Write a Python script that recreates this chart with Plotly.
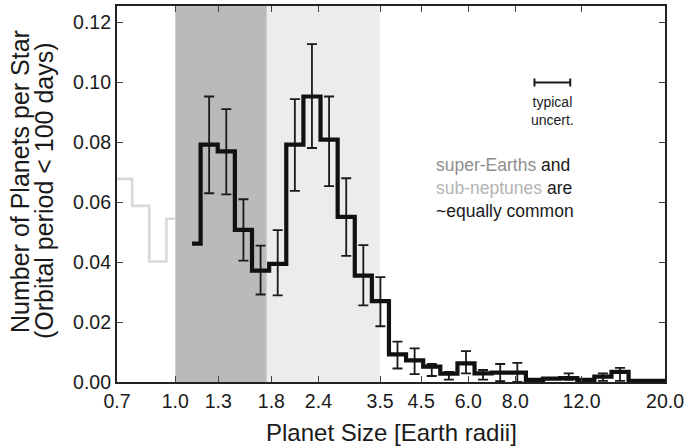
import plotly.graph_objects as go

# Planet occurrence vs. radius (orbital period < 100 days), log-spaced radius bins.
# Bin centres in Earth radii for the well-measured sample (R > ~1.1)
radius_centers = [1.108, 1.230, 1.366, 1.517, 1.685, 1.871, 2.078, 2.307, 2.562,
                  2.845, 3.159, 3.507, 3.893, 4.323, 4.801, 5.331, 5.920, 6.572,
                  7.298, 8.104, 9.000, 9.993, 11.10, 12.32, 13.68, 15.19, 16.87,
                  18.73, 20.80]
occurrence = [0.0462, 0.0792, 0.0770, 0.0508, 0.0372, 0.0394, 0.0792, 0.0953,
              0.0809, 0.0551, 0.0355, 0.0270, 0.0092, 0.0072, 0.0051, 0.0028,
              0.0062, 0.0029, 0.0031, 0.0031, 0.0007, 0.0011, 0.0013, 0.0007,
              0.0018, 0.0034, 0.0004, 0.0004, 0.0004]

# Bins carrying an uncertainty bar: centre, value, lower and upper bound
err_centers = [1.230, 1.366, 1.517, 1.685, 1.871, 2.078, 2.307, 2.562, 2.845,
               3.159, 3.507, 3.893, 4.323, 4.801, 5.331, 5.920, 6.572, 7.298,
               8.104, 11.10, 13.68, 15.19]
err_values = [0.0792, 0.0770, 0.0508, 0.0372, 0.0394, 0.0792, 0.0953, 0.0809,
              0.0551, 0.0355, 0.0270, 0.0092, 0.0072, 0.0051, 0.0028, 0.0062,
              0.0029, 0.0031, 0.0031, 0.0013, 0.0018, 0.0034]
err_lower = [0.0630, 0.0626, 0.0405, 0.0292, 0.0289, 0.0638, 0.0781, 0.0654,
             0.0421, 0.0256, 0.0186, 0.0045, 0.0026, 0.0020, 0.0008, 0.0029,
             0.0008, 0.0003, 0.0000, 0.0007, 0.0004, 0.0004]
err_upper = [0.0953, 0.0911, 0.0610, 0.0455, 0.0507, 0.0944, 0.1128, 0.0953,
             0.0680, 0.0457, 0.0350, 0.0135, 0.0112, 0.0060, 0.0034, 0.0103,
             0.0040, 0.0060, 0.0064, 0.0029, 0.0029, 0.0047]

# Less complete small-planet bins (R < 1.0)
small_centers = [0.656, 0.729, 0.809, 0.899, 0.998]
small_occurrence = [0.0678, 0.0678, 0.0588, 0.0402, 0.0545]

# Typical radius uncertainty marker
typ_center = 10.0
typ_minus = 1.0
typ_plus = 1.2
typ_level = 0.100

x_ticks = [0.7, 1.0, 1.3, 1.8, 2.4, 3.5, 4.5, 6.0, 8.0, 12.0, 20.0]
x_tick_text = ["0.7", "1.0", "1.3", "1.8", "2.4", "3.5", "4.5", "6.0", "8.0", "12.0", "20.0"]
y_ticks = [0.00, 0.02, 0.04, 0.06, 0.08, 0.10, 0.12]

super_earth_band = (1.0, 1.75)
sub_neptune_band = (1.75, 3.5)

FONT = "Liberation Sans, Arial, Helvetica, sans-serif"
INK = "#1a1a1a"

fig = go.Figure()

fig.add_trace(go.Scatter(
    x=small_centers, y=small_occurrence, mode="lines",
    line=dict(color="#d9d9d9", width=2.6, shape="hvh"),
    hoverinfo="skip", showlegend=False,
))

fig.add_trace(go.Scatter(
    x=err_centers, y=err_values, mode="markers",
    marker=dict(size=1, color="rgba(0,0,0,0)"),
    error_y=dict(type="data", symmetric=False,
                 array=[u - v for u, v in zip(err_upper, err_values)],
                 arrayminus=[v - l for v, l in zip(err_values, err_lower)],
                 color=INK, thickness=1.8, width=5),
    hoverinfo="skip", showlegend=False,
))

fig.add_trace(go.Scatter(
    x=radius_centers, y=occurrence, mode="lines",
    line=dict(color="#111111", width=4.2, shape="hvh"),
    hoverinfo="skip", showlegend=False,
))

fig.add_trace(go.Scatter(
    x=[typ_center], y=[typ_level], mode="markers",
    marker=dict(size=1, color="rgba(0,0,0,0)"),
    error_x=dict(type="data", symmetric=False, array=[typ_plus],
                 arrayminus=[typ_minus], color=INK, thickness=2, width=4),
    hoverinfo="skip", showlegend=False,
))

fig.add_shape(type="rect", xref="x", yref="paper",
              x0=super_earth_band[0], x1=super_earth_band[1], y0=0, y1=1,
              fillcolor="#bababa", line=dict(width=0), layer="below")
fig.add_shape(type="rect", xref="x", yref="paper",
              x0=sub_neptune_band[0], x1=sub_neptune_band[1], y0=0, y1=1,
              fillcolor="#ececec", line=dict(width=0), layer="below")

fig.add_annotation(
    xref="paper", yref="paper", x=0.794, y=0.7196,
    text="typical<br>uncert.", showarrow=False, align="center",
    xanchor="center", yanchor="middle",
    font=dict(family=FONT, size=14, color=INK),
)
fig.add_annotation(
    xref="paper", yref="paper", x=0.579, y=0.5167,
    text=('<span style="color:#8e8e8e">super-Earths</span> and<br>'
          '<span style="color:#b4b4b4">sub-neptunes</span> are<br>'
          '~equally common'),
    showarrow=False, align="left", xanchor="left", yanchor="middle",
    font=dict(family=FONT, size=17.5, color=INK),
)

# Axis titles
fig.add_annotation(
    xref="paper", yref="paper", x=0.5, y=-0.135,
    text="Planet Size [Earth radii]", showarrow=False,
    xanchor="center", yanchor="middle",
    font=dict(family=FONT, size=24, color=INK),
)
fig.add_annotation(
    xref="paper", yref="paper", x=-0.177, y=0.532,
    text="Number of Planets per Star",
    textangle=-90, showarrow=False,
    xanchor="center", yanchor="middle",
    font=dict(family=FONT, size=25, color=INK),
)
fig.add_annotation(
    xref="paper", yref="paper", x=-0.133, y=0.508,
    text="(Orbital period < 100 days)",
    textangle=-90, showarrow=False,
    xanchor="center", yanchor="middle",
    font=dict(family=FONT, size=25, color=INK),
)

fig.update_xaxes(
    type="log", range=[-0.15490196, 1.30103],
    tickvals=x_ticks, ticktext=x_tick_text,
    ticks="inside", ticklen=6, tickwidth=1.2, tickcolor="#444",
    showline=True, linecolor="#222", linewidth=2.2, mirror="ticks",
    showgrid=False, zeroline=False,
    tickfont=dict(family=FONT, size=19.5, color=INK),
)
fig.update_yaxes(
    range=[0, 0.1255], tickvals=y_ticks, tickformat=".2f",
    ticks="inside", ticklen=6, tickwidth=1.2, tickcolor="#444",
    showline=True, linecolor="#222", linewidth=2.2, mirror="ticks",
    showgrid=False, zeroline=False,
    tickfont=dict(family=FONT, size=19.5, color=INK),
)

fig.update_layout(
    width=688, height=447,
    margin=dict(l=117, r=22, t=4, b=65),
    plot_bgcolor="white", paper_bgcolor="white",
    showlegend=False,
)

fig.write_html("out.html")
